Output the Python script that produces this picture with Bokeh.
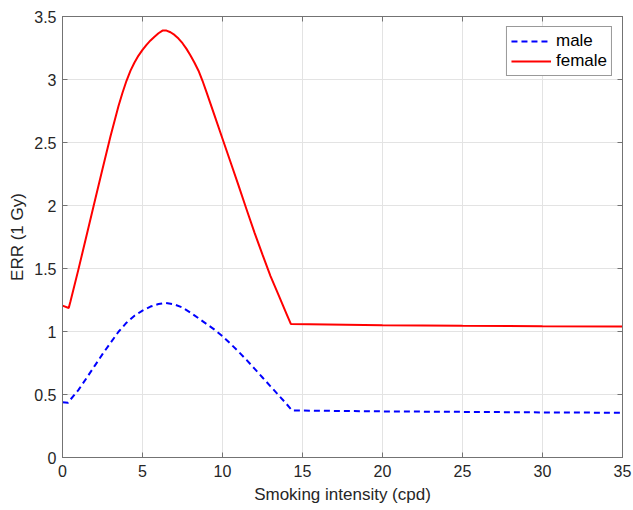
from bokeh.plotting import figure
from bokeh.models import LinearAxis, Range1d, FixedTicker, Legend, LegendItem
from bokeh.embed import file_html
from bokeh.resources import INLINE

# ---- data ----
female_x = [0, 0.39, 0.5, 1, 1.5, 2, 2.5, 3, 3.5, 3.75, 4, 4.25, 4.5, 4.75, 5, 5.25, 5.5,
            5.75, 6, 6.25, 6.5, 6.75, 7, 7.25, 7.5, 7.75, 8, 8.25, 8.5, 8.75, 9, 9.5, 10,
            10.5, 11, 11.5, 12, 12.5, 13, 13.5, 14, 14.27, 20, 25, 30, 35]
female_y = [1.205, 1.187, 1.24, 1.495, 1.76, 2.025, 2.29, 2.55, 2.79, 2.895, 2.99, 3.07,
            3.135, 3.19, 3.235, 3.275, 3.31, 3.34, 3.367, 3.388, 3.388, 3.375, 3.354, 3.325,
            3.288, 3.243, 3.19, 3.133, 3.07, 2.99, 2.9, 2.715, 2.53, 2.345, 2.16, 1.97,
            1.785, 1.61, 1.44, 1.29, 1.14, 1.06, 1.05, 1.045, 1.042, 1.04]

male_x = [0, 0.34, 0.5, 1, 1.5, 2, 2.5, 3, 3.5, 4, 4.5, 5, 5.5, 6, 6.43, 7, 7.5, 8, 8.5,
          9, 9.5, 10, 10.5, 11, 11.5, 12, 12.5, 13, 13.5, 14, 14.35, 20, 25, 30, 35]
male_y = [0.439, 0.434, 0.46, 0.537, 0.63, 0.725, 0.82, 0.91, 0.998, 1.07, 1.125, 1.166,
          1.198, 1.218, 1.227, 1.215, 1.19, 1.15, 1.105, 1.06, 1.015, 0.963, 0.903, 0.84,
          0.775, 0.705, 0.635, 0.565, 0.495, 0.425, 0.373, 0.366, 0.362, 0.358, 0.355]

x_ticks = [0, 5, 10, 15, 20, 25, 30, 35]
x_tick_labels = ["0", "5", "10", "15", "20", "25", "30", "35"]
y_ticks = [0, 0.5, 1, 1.5, 2, 2.5, 3, 3.5]
y_tick_labels = ["0", "0.5", "1", "1.5", "2", "2.5", "3", "3.5"]

x_label = "Smoking intensity (cpd)"
y_label = "ERR (1 Gy)"
series_names = ["male", "female"]

FONT = "Liberation Sans"
AX_COLOR = "#737373"

p = figure(width=633, height=510, output_backend="svg", toolbar_location=None,
           x_range=Range1d(0, 35), y_range=Range1d(0, 3.5),
           min_border_left=62, min_border_right=11, min_border_top=16, min_border_bottom=53)

p.background_fill_color = "white"
p.border_fill_color = "white"
p.outline_line_color = AX_COLOR
p.outline_line_width = 1

male_r = p.line(male_x, male_y, line_color="#0000ff", line_width=2, line_dash="6 4")
female_r = p.line(female_x, female_y, line_color="#ff0000", line_width=2)

for ax in (p.xaxis[0], p.yaxis[0]):
    ax.axis_line_color = AX_COLOR
    ax.major_tick_line_color = AX_COLOR
    ax.major_tick_in = 5
    ax.major_tick_out = 0
    ax.minor_tick_line_color = None
    ax.major_label_text_font = FONT
    ax.major_label_text_font_size = "16px"
    ax.major_label_text_color = "#262626"
    ax.axis_label_text_font = FONT
    ax.axis_label_text_font_size = "17px"
    ax.axis_label_text_font_style = "normal"
    ax.axis_label_text_color = "#262626"

p.xaxis[0].ticker = FixedTicker(ticks=x_ticks)
p.xaxis[0].major_label_overrides = dict(zip(x_ticks, x_tick_labels))
p.xaxis[0].axis_label = x_label
p.xaxis[0].major_label_standoff = 7
p.xaxis[0].axis_label_standoff = 5

p.yaxis[0].ticker = FixedTicker(ticks=y_ticks)
p.yaxis[0].major_label_overrides = dict(zip(y_ticks, y_tick_labels))
p.yaxis[0].axis_label = y_label
p.yaxis[0].major_label_standoff = 6
p.yaxis[0].axis_label_standoff = 4

# top / right tick-only axes (box style)
top = LinearAxis(ticker=FixedTicker(ticks=x_ticks), major_tick_in=5, major_tick_out=0,
                 major_label_text_color=None, major_label_text_font_size="1px",
                 major_label_standoff=0,
                 axis_line_color=AX_COLOR, major_tick_line_color=AX_COLOR,
                 minor_tick_line_color=None)
right = LinearAxis(ticker=FixedTicker(ticks=y_ticks), major_tick_in=5, major_tick_out=0,
                   major_label_text_color=None, major_label_text_font_size="1px",
                   major_label_standoff=0,
                   axis_line_color=AX_COLOR, major_tick_line_color=AX_COLOR,
                   minor_tick_line_color=None)
p.add_layout(top, "above")
p.add_layout(right, "right")

p.xgrid.ticker = FixedTicker(ticks=x_ticks)
p.ygrid.ticker = FixedTicker(ticks=y_ticks)
p.xgrid.grid_line_color = "#e3e3e3"
p.ygrid.grid_line_color = "#e3e3e3"

legend = Legend(items=[LegendItem(label=series_names[0], renderers=[male_r]),
                       LegendItem(label=series_names[1], renderers=[female_r])],
                location="top_right", margin=10, padding=4, spacing=0,
                glyph_width=40, glyph_height=20, label_height=20, label_standoff=5,
                label_text_font=FONT, label_text_font_size="17px",
                label_text_color="#000000",
                border_line_color="#333333", border_line_width=1,
                background_fill_color="white", background_fill_alpha=1)
p.add_layout(legend, "center")

open("out.html", "w").write(file_html(p, INLINE))
